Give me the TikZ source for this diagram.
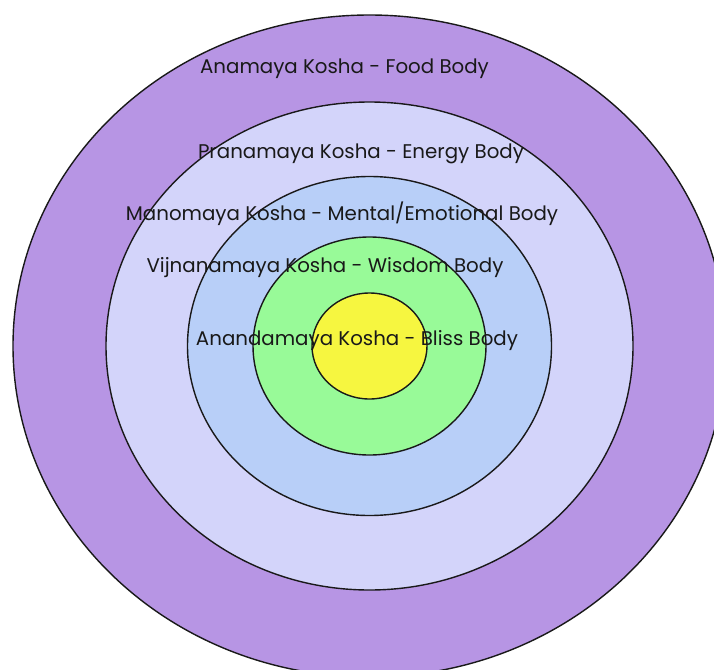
\documentclass[tikz,border=0pt]{standalone}
\usepackage{fontspec}
\setmainfont{Poppins}
\definecolor{annaC}{RGB}{183,149,228}
\definecolor{pranaC}{RGB}{211,212,250}
\definecolor{manoC}{RGB}{184,207,248}
\definecolor{vijnaC}{RGB}{152,250,152}
\definecolor{anandaC}{RGB}{246,246,64}
\tikzset{
  sheath/.style={draw=black!90, line width=1.4pt},
  kosha/.style={font=\fontsize{19.8}{22}\selectfont, text=black!90, inner sep=0pt, anchor=center}
}
\begin{document}
\begin{tikzpicture}[x=1pt,y=-1pt]
\useasboundingbox (0,0) rectangle (714,669);
\fill[white] (0,0) rectangle (714,669);
\begin{scope}
\clip (0,0) rectangle (714,669);
\coordinate (c) at (369.5,346);
\draw[sheath, fill=annaC] (c) ellipse [x radius=356.5, y radius=331];
\draw[sheath, fill=pranaC] (c) ellipse [x radius=263.5, y radius=244];
\draw[sheath, fill=manoC] (c) ellipse [x radius=182, y radius=169.5];
\draw[sheath, fill=vijnaC] (c) ellipse [x radius=116.5, y radius=109];
\draw[sheath, fill=anandaC] (c) ellipse [x radius=57.5, y radius=53];
\end{scope}
\node[kosha] (anna) at (344.5,69) {Anamaya Kosha - Food Body};
\node[kosha] (prana) at (361,154) {Pranamaya Kosha - Energy Body};
\node[kosha] (mano) at (342,214) {Manomaya Kosha - Mental/Emotional Body};
\node[kosha] (vijna) at (325,268) {Vijnanamaya Kosha - Wisdom Body};
\node[kosha] (ananda) at (357,341) {Anandamaya Kosha - Bliss Body};
\end{tikzpicture}
\end{document}
